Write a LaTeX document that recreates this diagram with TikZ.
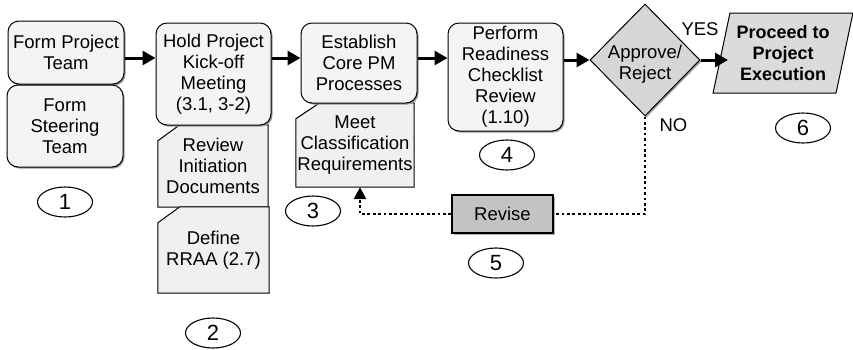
\documentclass[tikz,border=0pt]{standalone}
\usepackage{fontspec}
\setmainfont{Liberation Sans}
\usetikzlibrary{arrows.meta,
                backgrounds,
                positioning,
                shadows,
                shapes.geometric
            }

\begin{document}
\begin{tikzpicture}[x=1pt, y=-1pt,
        every node/.style={font=\fontsize{18.5}{21}\selectfont, align=center, inner sep=0pt},
        stepbox/.style={draw, rounded corners=11pt, fill=gray!9, line width=1pt,
            drop shadow={shadow xshift=1.5pt, shadow yshift=-1.5pt, fill=gray!80, opacity=1}},
        docline/.style={draw=black, fill=gray!12, line width=1pt},
        decision/.style={draw, diamond, fill=gray!32, line width=1pt, minimum width=110pt, minimum height=112pt,
            drop shadow={shadow xshift=1.5pt, shadow yshift=-1.5pt, fill=gray!80, opacity=1}},
        exec/.style={draw, trapezium, trapezium stretches=true, trapezium left angle=75, trapezium right angle=105,
            fill=gray!28, line width=1pt, minimum width=140pt, minimum height=80pt,
            font=\fontsize{18}{21}\selectfont\bfseries},
        revbox/.style={draw, fill=gray!47, line width=1.8pt, minimum width=101pt, minimum height=38pt,
            drop shadow={shadow xshift=1.5pt, shadow yshift=-1.5pt, fill=gray!60, opacity=1}},
        tag/.style={draw, ellipse, line width=1.1pt, minimum width=55pt, minimum height=30pt,
            font=\fontsize{22}{22}\selectfont},
        flow/.style={line width=3pt, -{Triangle[length=13pt, width=14pt]}},
        back/.style={line width=2.6pt, dash pattern=on 2.7pt off 2.7pt},
    ]
    \useasboundingbox (0,0) rectangle (853,349);

    \node[stepbox, minimum width=116pt, minimum height=63pt] (team) at (66,52.5) {Form Project\\Team};
    \node[stepbox, minimum width=116pt, minimum height=82pt] (steer) at (65,126) {Form\\Steering\\Team};
    \node[stepbox, minimum width=115pt, minimum height=102pt] (kick) at (213.5,74) {Hold Project\\Kick-off\\Meeting\\(3.1, 3-2)};
    \node[stepbox, minimum width=116pt, minimum height=80pt] (core) at (359,63) {Establish\\Core PM\\Processes};
    \node[stepbox, minimum width=115pt, minimum height=108pt] (ready) at (505.5,77) {Perform\\Readiness\\Checklist\\Review\\(1.10)};

    \node[minimum width=110pt, minimum height=82pt] (initdoc) at (213,166) {Review\\Initiation\\Documents};
    \node[minimum width=111pt, minimum height=86pt] (rraa) at (213.5,250) {Define\\RRAA (2.7)};
    \node[minimum width=118pt, minimum height=84pt] (meet) at (355,145) {Meet\\Classification\\Requirements};
    \begin{scope}[on background layer]
        \foreach \d/\cx in {initdoc/22, rraa/22, meet/24}
            \path[docline] ([yshift=-16pt]\d.north west) -- ([xshift=\cx pt]\d.north west)
                -- (\d.north east) -- (\d.south east) -- (\d.south west) -- cycle;
    \end{scope}

    \node[decision] (dec) at (645,60) {};
    \node (dectext) at (645,64) {Approve/\\Reject};
    \node[exec] (exe) at (783,53) {Proceed to\\Project\\Execution};
    \node[revbox] (rev) at (502.5,214) {Revise};

    \node (yes) at (700,29) {YES};
    \node (no) at (673.5,125) {NO};

    \node[tag] (n1) at (65,202) {1};
    \node[tag] (n2) at (213,333) {2};
    \node[tag] (n3) at (313,211) {3};
    \node[tag] (n4) at (507,155) {4};
    \node[tag] (n5) at (496,263) {5};
    \node[tag] (n6) at (803,128) {6};

    \coordinate (row) at (0,58);
    \coordinate (turn) at (360,214);
    \draw[flow] (team.east |- row) -- (kick.west |- row);
    \draw[flow] (kick.east |- row) -- (core.west |- row);
    \draw[flow] (core.east |- row) -- (ready.west |- row);
    \draw[flow] (ready.east |- dec.west) -- (dec.west);
    \draw[flow] (dec.east) -- ([xshift=7pt]dec.east -| exe.west);
    \draw[back] (dec.south) -- (dec.south |- rev.east) -- (rev.east);
    \draw[back, -{Triangle[length=12pt, width=12pt]}] (rev.west) -- (turn) -- (turn |- meet.south);
\end{tikzpicture}
\end{document}
